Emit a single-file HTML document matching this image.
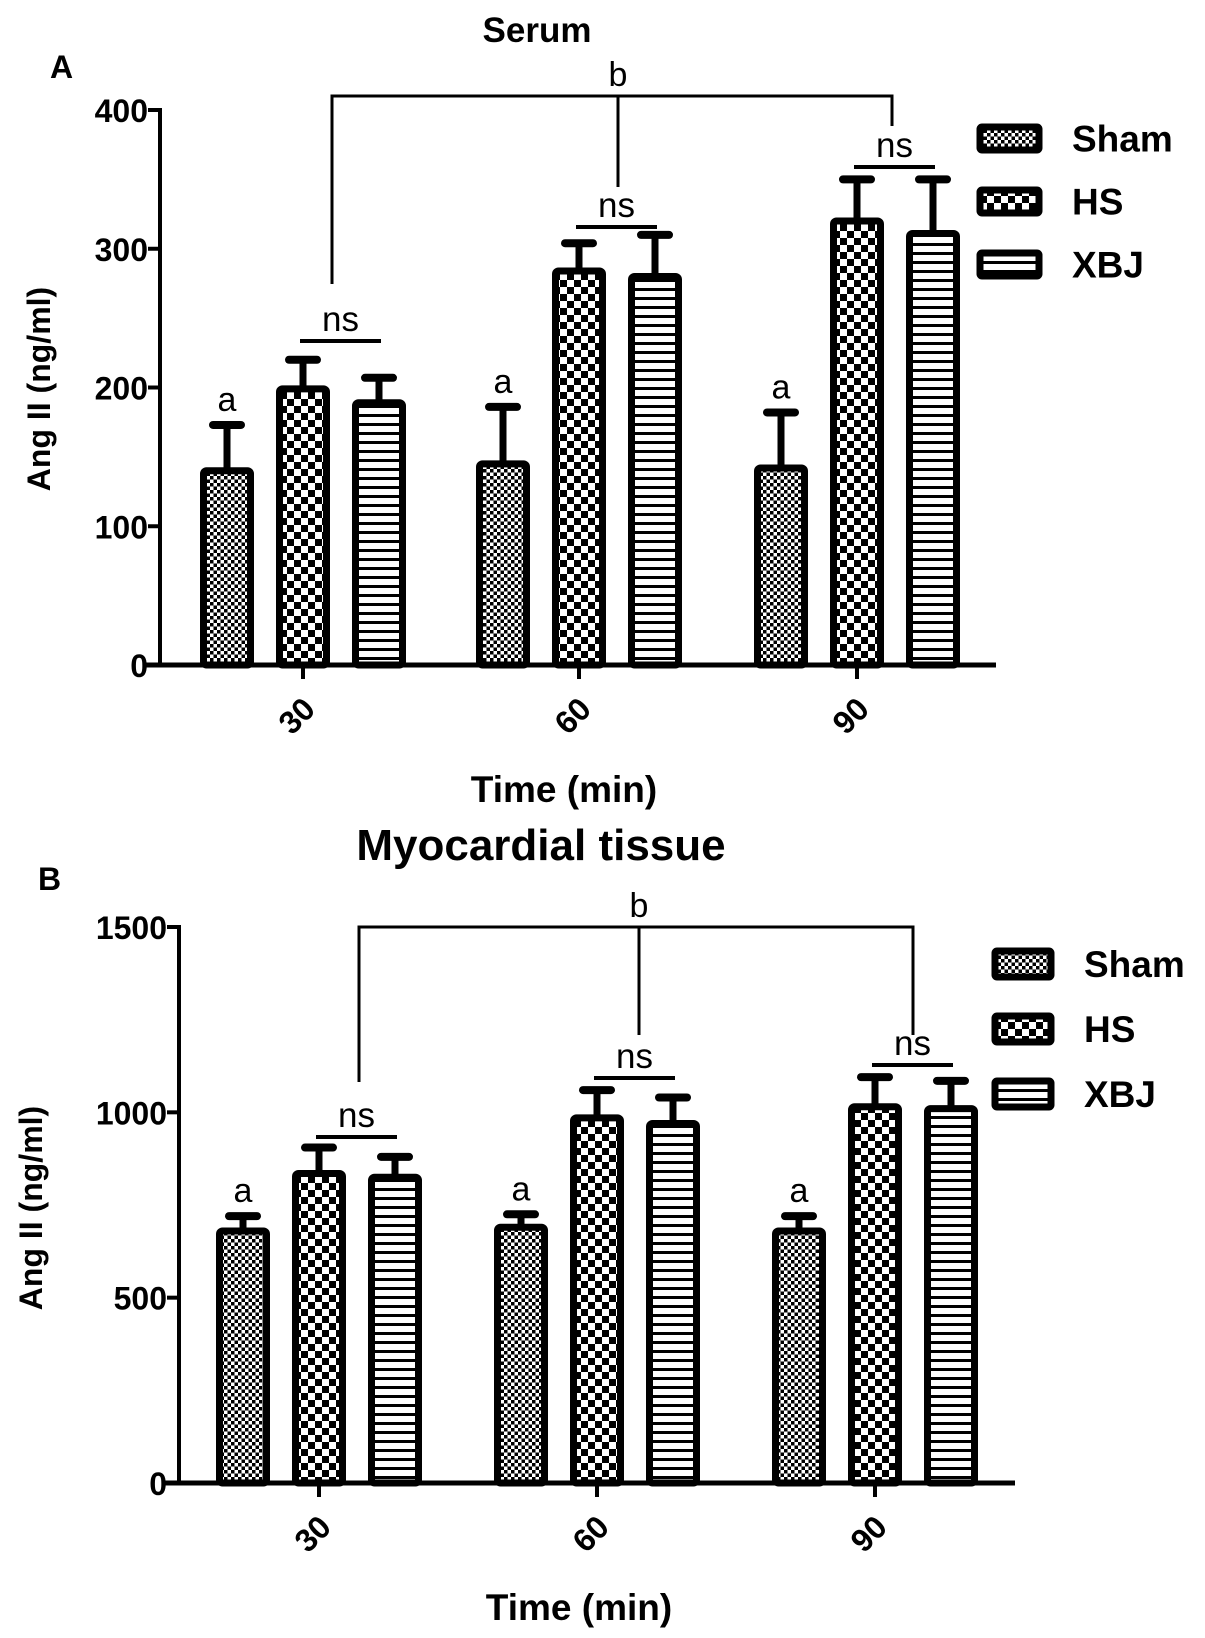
<!DOCTYPE html>
<html><head><meta charset="utf-8"><style>
html,body{margin:0;padding:0;background:#fff;}
svg{display:block;font-family:"Liberation Sans",Arial,sans-serif;}
</style></head><body>
<svg id="chart" width="1205" height="1638" viewBox="0 0 1205 1638" xmlns="http://www.w3.org/2000/svg">
<defs>
<pattern id="pSham" width="7" height="7" patternUnits="userSpaceOnUse"><rect width="7" height="7" fill="#fff"/><rect width="3.5" height="3.5" fill="#000"/><rect x="3.5" y="3.5" width="3.5" height="3.5" fill="#000"/></pattern>
<pattern id="pHS" width="14" height="14" patternUnits="userSpaceOnUse"><rect width="14" height="14" fill="#fff"/><rect width="7" height="7" fill="#000"/><rect x="7" y="7" width="7" height="7" fill="#000"/></pattern>
<pattern id="pXBJ" width="9" height="9" patternUnits="userSpaceOnUse"><rect width="9" height="9" fill="#fff"/><rect y="0" width="9" height="3" fill="#000"/></pattern>
</defs>
</svg>
<script>
const categories = ['30','60','90'];
const seriesNames = ['Sham','HS','XBJ'];
const serumSham = [140,145,142];
const serumShamErr = [33,41,40];
const serumHS = [199,284,320];
const serumHSErr = [21,20,30];
const serumXBJ = [189,280,311];
const serumXBJErr = [18,30,39];
const serumTicks = [0,100,200,300,400];
const myoSham = [680,690,680];
const myoShamErr = [40,35,40];
const myoHS = [835,985,1015];
const myoHSErr = [70,75,80];
const myoXBJ = [825,970,1010];
const myoXBJErr = [55,70,75];
const myoTicks = [0,500,1000,1500];

const NS='http://www.w3.org/2000/svg';
const svg=document.getElementById('chart');
function mk(tag,attrs,parent){const e=document.createElementNS(NS,tag);for(const k in attrs)e.setAttribute(k,attrs[k]);(parent||svg).appendChild(e);return e;}
function txt(s,attrs,parent){const e=mk('text',attrs,parent);e.textContent=s;return e;}

function panel(cfg){
  const g=mk('g',{});
  
  
  const yS=v=>cfg.y0-(v/cfg.ymax)*(cfg.y0-cfg.yTop);
  let t=txt(cfg.title,{x:cfg.titleX,y:cfg.titleY,'text-anchor':'middle','font-size':cfg.titleSize,'font-weight':'bold'},g);
  
  
  t=txt(cfg.letter,{x:cfg.letterX,y:cfg.letterY,'font-size':32,'font-weight':'bold'},g);
  
  
  const vals=[cfg.sham,cfg.hs,cfg.xbj], errs=[cfg.shamE,cfg.hsE,cfg.xbjE], pats=['pSham','pHS','pXBJ'];
  categories.forEach((c,i)=>{
    vals.forEach((arr,s)=>{
      const cx=cfg.centers[i]+cfg.offs[s];
      const top=yS(arr[i]);const et=yS(arr[i]+errs[s][i]);
      const el=mk('line',{x1:cx,x2:cx,y1:top,y2:et,stroke:'#000','stroke-width':7},g);
      
      
      const cap=mk('line',{x1:cx-14,x2:cx+14,y1:et,y2:et,stroke:'#000','stroke-width':8,'stroke-linecap':'round'},g);
      
      
      const r=mk('rect',{x:cx-cfg.bw/2+3.5,y:top,width:cfg.bw-7,height:cfg.y0-top,fill:'url(#'+pats[s]+')',stroke:'#000','stroke-width':7,rx:3},g);
      
      
      if(s===0){const a=txt('a',{x:cx,y:et-14,'text-anchor':'middle','font-size':34},g);
        
        }
    });
    const nsy=cfg.nsY[i];
    const x1=cfg.centers[i]-3,x2=cfg.centers[i]+cfg.offs[2]+2;
    const ln=mk('line',{x1:x1,x2:x2,y1:nsy,y2:nsy,stroke:'#000','stroke-width':4},g);
    
    
    const nt=txt('ns',{x:(x1+x2)/2,y:nsy-10,'text-anchor':'middle','font-size':35},g);
    
    
    const tk=mk('line',{x1:cfg.centers[i],x2:cfg.centers[i],y1:cfg.y0,y2:cfg.y0+14,stroke:'#000','stroke-width':4},g);
    
    
    const tl=txt(c,{x:0,y:0,'text-anchor':'end','font-size':32,'font-weight':'bold',transform:'translate('+(cfg.centers[i]+14)+','+(cfg.y0+46)+') rotate(-45)'},g);
    
    
  });
  let ax=mk('line',{x1:cfg.x0,x2:cfg.x0,y1:cfg.yTop-2,y2:cfg.y0+2,stroke:'#000','stroke-width':4},g);
  
  
  ax=mk('line',{x1:cfg.x0-14,x2:cfg.xEnd,y1:cfg.y0,y2:cfg.y0,stroke:'#000','stroke-width':5},g);
  
  
  cfg.ticks.forEach(v=>{
    const y=yS(v);
    const tk=mk('line',{x1:cfg.x0-12,x2:cfg.x0,y1:y,y2:y,stroke:'#000','stroke-width':4},g);
    
    
    const tl=txt(String(v),{x:cfg.x0-12,y:y+12,'text-anchor':'end','font-size':32,'font-weight':'bold'},g);
    
    
  });
  let yl=txt('Ang II (ng/ml)',{x:0,y:0,'text-anchor':'middle','font-size':32,'font-weight':'bold',transform:'translate('+cfg.ylabX+','+cfg.ylabY+') rotate(-90)'},g);
  
  
  let xl=txt('Time (min)',{x:cfg.xlabX,y:cfg.xlabY,'text-anchor':'middle','font-size':37,'font-weight':'bold'},g);
  
  
  const bt=cfg.bTop;
  const bp='M'+cfg.bx[0]+' '+cfg.bBot[0]+' V'+bt+' H'+cfg.bx[2]+' V'+cfg.bBot[2]+' M'+cfg.bx[1]+' '+bt+' V'+cfg.bBot[1];
  const bb=mk('path',{d:bp,fill:'none',stroke:'#000','stroke-width':3},g);
  
  
  const bl=txt('b',{x:cfg.bx[1],y:bt-10,'text-anchor':'middle','font-size':34},g);
  
  
  seriesNames.forEach((n,s)=>{
    const y=cfg.legY[s];
    const lr=mk('rect',{x:cfg.legX+3,y:y+3,width:cfg.legW-6,height:cfg.legH-6,fill:'url(#'+pats[s]+')',stroke:'#000','stroke-width':7,rx:2},g);
    
    
    const lt=txt(n,{x:cfg.legX+cfg.legW+30,y:y+cfg.legH/2+13,'font-size':37,'font-weight':'bold'},g);
    
    
  });
}

panel({name:'panel-a-serum',title:'Serum',titleX:537,titleY:42,titleSize:35,letter:'A',letterX:50,letterY:78,
  x0:160,xEnd:996,y0:665,yTop:110,ymax:400,ticks:serumTicks,
  sham:serumSham,hs:serumHS,xbj:serumXBJ,shamE:serumShamErr,hsE:serumHSErr,xbjE:serumXBJErr,
  centers:[303,579,857],offs:[-76,0,76],bw:54,nsY:[341,227,167],
  bx:[332,618,892],bTop:96,bBot:[284,187,126],
  legX:977,legW:65,legH:29,legY:[124,187,250],
  ylabX:50,ylabY:389,xlabX:564,xlabY:802});
panel({name:'panel-b-myocardial',title:'Myocardial tissue',titleX:541,titleY:860,titleSize:44,letter:'B',letterX:38,letterY:890,
  x0:179,xEnd:1015,y0:1483,yTop:927,ymax:1500,ticks:myoTicks,
  sham:myoSham,hs:myoHS,xbj:myoXBJ,shamE:myoShamErr,hsE:myoHSErr,xbjE:myoXBJErr,
  centers:[319,597,875],offs:[-76,0,76],bw:54,nsY:[1137,1078,1065],
  bx:[359,639,913],bTop:927,bBot:[1082,1035,1035],
  legX:992,legW:62,legH:32,legY:[948,1013,1078],
  ylabX:42,ylabY:1208,xlabX:579,xlabY:1620});
</script>
</body></html>
